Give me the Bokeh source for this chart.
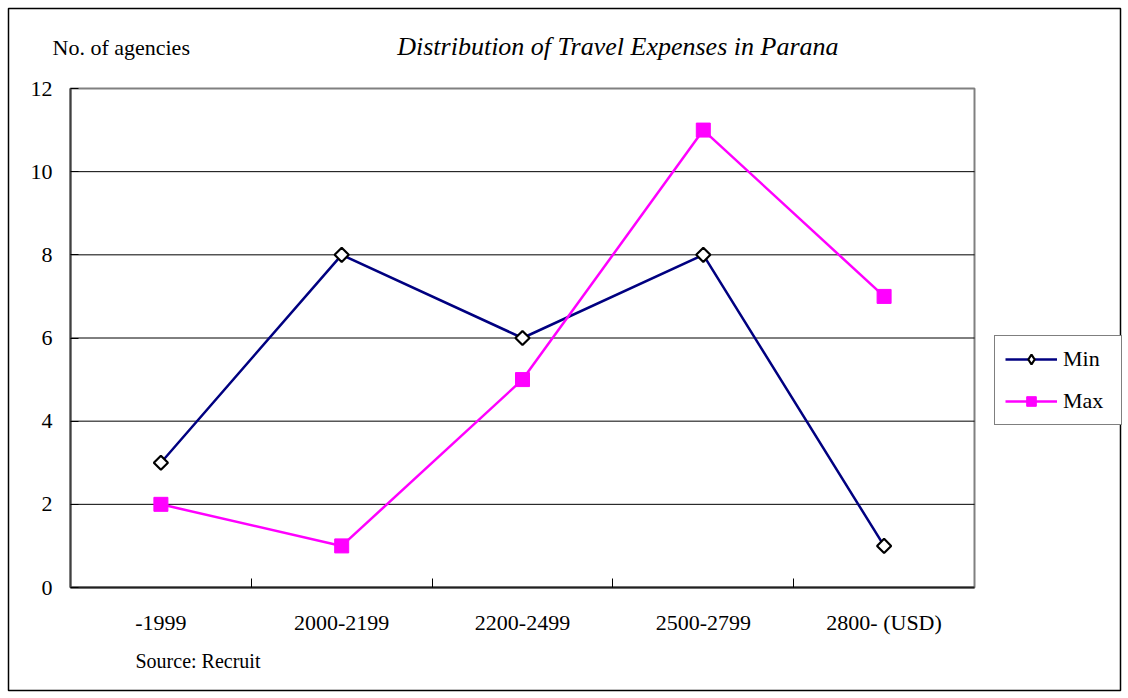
from bokeh.plotting import figure
from bokeh.models import (Range1d, FixedTicker, Legend, LegendItem, ColumnDataSource, Label,
                          BoxAnnotation)
from bokeh.embed import file_html
from bokeh.resources import INLINE
import math

categories = ["-1999", "2000-2199", "2200-2499", "2500-2799", "2800- (USD)"]
min_values = [3, 8, 6, 8, 1]
max_values = [2, 1, 5, 11, 7]
y_ticks = [0, 2, 4, 6, 8, 10, 12]

y_axis_title = "No. of agencies"
chart_title = "Distribution of Travel Expenses in Parana"
source_note = "Source: Recruit"

FONT = "Liberation Serif"
W, H = 1128, 698
# plot-area placement on the canvas (pixels)
PL, PR, PT, PB = 70, 974, 88, 587

n = len(categories)
y_max = y_ticks[-1]
xs = [i + 0.5 for i in range(n)]
src = ColumnDataSource(dict(x=xs, mn=min_values, mx=max_values))

ux = (PR - PL) / n
uy = (PB - PT) / y_max
x_range = Range1d(-PL / ux, n + (W - PR) / ux)
y_range = Range1d(-(H - PB) / uy, y_max + PT / uy)

p = figure(width=W, height=H, output_backend="svg", toolbar_location=None,
           x_range=x_range, y_range=y_range,
           min_border=0, min_border_left=0, min_border_right=0,
           min_border_top=0, min_border_bottom=0)
p.background_fill_color = "white"
p.border_fill_color = "white"
p.outline_line_color = None
p.xgrid.visible = False
p.ygrid.visible = False

# horizontal gridlines inside the plot area
grid_y = y_ticks[1:-1]
p.segment(x0=[0] * len(grid_y), x1=[n] * len(grid_y), y0=grid_y, y1=grid_y,
          line_color="black", line_width=1)

# plot-area frame (grey)
p.add_layout(BoxAnnotation(left=0, right=n, bottom=0, top=y_max, fill_alpha=0,
                           line_color="#808080", line_width=2, line_alpha=1, level="underlay"))

# y axis
p.yaxis.fixed_location = 0
p.yaxis.bounds = (0, y_max)
p.yaxis.ticker = FixedTicker(ticks=y_ticks)
p.yaxis.axis_line_color = "#404040"
p.yaxis.axis_line_width = 2
p.yaxis.major_tick_in = 8
p.yaxis.major_tick_out = 0
p.yaxis.major_tick_line_color = "black"
p.yaxis.minor_tick_line_color = None
p.yaxis.major_label_standoff = 18
p.yaxis.major_label_text_font = FONT
p.yaxis.major_label_text_font_size = "22px"
p.yaxis.major_label_text_color = "black"

# x axis
p.xaxis.fixed_location = 0
p.xaxis.bounds = (0, n)
p.xaxis.ticker = FixedTicker(ticks=xs, minor_ticks=list(range(1, n)))
p.xaxis.major_label_overrides = {x: c for x, c in zip(xs, categories)}
p.xaxis.axis_line_color = "#202020"
p.xaxis.axis_line_width = 2
p.xaxis.major_tick_line_color = None
p.xaxis.minor_tick_in = 9
p.xaxis.minor_tick_out = 0
p.xaxis.minor_tick_line_color = "black"
p.xaxis.major_label_standoff = 16
p.xaxis.major_label_text_font = FONT
p.xaxis.major_label_text_font_size = "22px"
p.xaxis.major_label_text_color = "black"

# series
l_min = p.line("x", "mn", source=src, line_color="#000080", line_width=2.5)
m_min = p.scatter("x", "mn", source=src, marker="square", angle=math.pi / 4, size=10,
                  fill_color="white", line_color="black", line_width=2.2)
l_max = p.line("x", "mx", source=src, line_color="#FF00FF", line_width=2.5)
m_max = p.scatter("x", "mx", source=src, marker="square", size=14,
                  fill_color="#FF00FF", line_color="#FF00FF")
# diamond used only as the legend symbol
k_min = p.scatter("x", "mn", source=src, marker="diamond", size=16,
                  fill_color="white", line_color="black", line_width=2.2, visible=False)

legend = Legend(items=[LegendItem(label="Min", renderers=[l_min, k_min]),
                       LegendItem(label="Max", renderers=[l_max, m_max])],
                location=(994, H - 425), orientation="vertical",
                label_text_font=FONT, label_text_font_size="22px", label_text_color="black",
                border_line_color="black", border_line_width=1,
                glyph_width=52, glyph_height=24, label_height=24, label_width=48,
                spacing=16, padding=10, margin=0, label_standoff=6,
                background_fill_color="white", background_fill_alpha=1,
                inactive_fill_alpha=0)
p.add_layout(legend, "center")

p.add_layout(Label(x=838, y=46, x_units="canvas", y_units="canvas", text=chart_title,
                   text_align="right", text_baseline="middle",
                   text_font=FONT, text_font_size="26px", text_font_style="italic",
                   text_color="black"))
p.add_layout(Label(x=52, y=47, x_units="canvas", y_units="canvas", text=y_axis_title,
                   text_font=FONT, text_font_size="22px", text_baseline="middle",
                   text_color="black"))
p.add_layout(Label(x=135, y=660, x_units="canvas", y_units="canvas", text=source_note,
                   text_font=FONT, text_font_size="20px", text_baseline="middle",
                   text_color="black"))

# outer chart border
p.add_layout(BoxAnnotation(left=8, right=W - 8, top=8, bottom=H - 8,
                           left_units="canvas", right_units="canvas",
                           top_units="canvas", bottom_units="canvas",
                           fill_alpha=0, line_color="black", line_width=1.5, line_alpha=1))

open("out.html", "w").write(file_html(p, INLINE))
